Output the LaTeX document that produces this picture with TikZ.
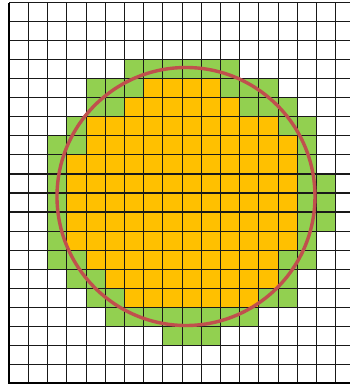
\documentclass[tikz,border=0pt]{standalone}
\usetikzlibrary{calc}
\definecolor{cellorange}{HTML}{FFC000}
\definecolor{cellgreen}{HTML}{92D050}
\definecolor{ringred}{HTML}{C0504D}
\tikzset{
  greencell/.style={fill=cellgreen},
  orangecell/.style={fill=cellorange},
  cellline/.style={black!90, line width=0.55pt},
  frameline/.style={black, line width=0.8pt},
  ring/.style={draw=ringred, line width=1.7pt}
}

\begin{document}
\begin{tikzpicture}[x=9.6pt, y=9.515pt]
    \useasboundingbox (-0.484,-0.30) rectangle (17.745,20.142);

    % green band (row from top / first col / last col)
    \foreach \r/\a/\b in {3/6/11, 4/4/13, 5/4/14, 6/3/15, 7/2/15, 8/2/15,
                          9/2/16, 10/2/16, 11/2/16, 12/2/15, 13/2/15,
                          14/3/14, 15/4/14, 16/5/12, 17/8/10}
        \fill[greencell] ({\a},{19-\r}) rectangle ({\b+1},{20-\r});

    % orange core
    \foreach \r/\a/\b in {4/7/10, 5/6/11, 6/4/13, 7/4/14, 8/3/14, 9/3/14,
                          10/3/14, 11/3/14, 12/3/14, 13/4/13, 14/5/13,
                          15/6/12}
        \fill[orangecell] ({\a},{19-\r}) rectangle ({\b+1},{20-\r});

    % grid
    \draw[cellline, step=1] (0,0) grid (17.745,20);
    \coordinate (TL) at (0,20);
    \coordinate (BL) at (0,0);
    \coordinate (BR) at (17.745,0);
    \draw[frameline] (TL) -- (BL) -- (BR);

    % circle
    \coordinate (O) at (9.203,9.816);
    \draw[ring] (O) circle[radius=64.5pt];
\end{tikzpicture}
\end{document}
